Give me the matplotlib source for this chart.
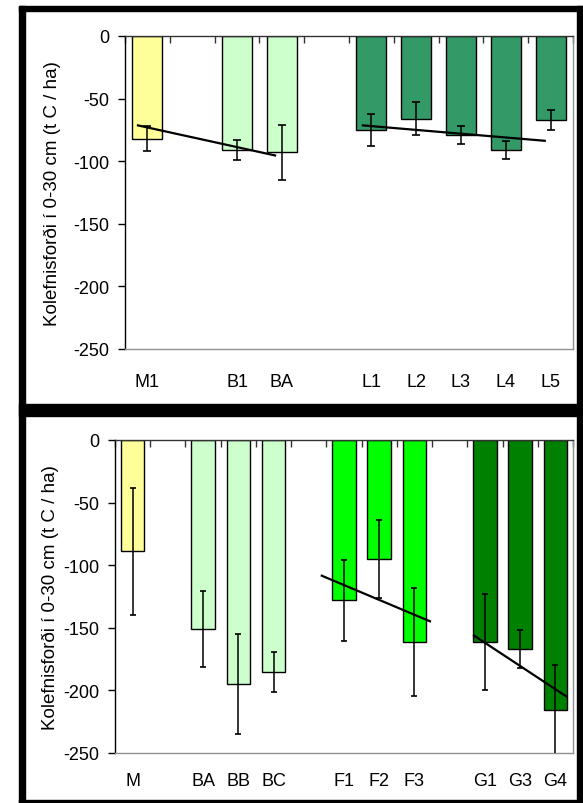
import numpy as np
import matplotlib
matplotlib.use("Agg")
import matplotlib.pyplot as plt
from matplotlib.patches import Rectangle

plt.rcParams['font.family'] = ['Liberation Sans', 'DejaVu Sans']

# ---------------- data ----------------
top_labels = ['M1', '', 'B1', 'BA', '', 'L1', 'L2', 'L3', 'L4', 'L5']
top_values = [-82, np.nan, -91, -93, np.nan, -75, -66, -79, -91, -67]
top_errors = [10, np.nan, 8, 22, np.nan, 12.5, 13, 7, 7.5, 8]
top_groups = ['M', '', 'B', 'B', '', 'L', 'L', 'L', 'L', 'L']
top_trend_x = [[-0.21, 2.85], [4.81, 8.87]]
top_trend_y = [[-71.4, -95.4], [-71.4, -83.7]]

bot_labels = ['M', '', 'BA', 'BB', 'BC', '', 'F1', 'F2', 'F3', '', 'G1', 'G3', 'G4']
bot_values = [-89, np.nan, -151, -195, -185, np.nan, -128, -95, -161.5, np.nan, -161.5, -167, -216]
bot_errors = [51, np.nan, 30, 40, 16, np.nan, 32.5, 31, 43, np.nan, 38.5, 15, 36]
bot_groups = ['M', '', 'B', 'B', 'B', '', 'F', 'F', 'F', '', 'G', 'G', 'G']
bot_trend_x = [[5.37, 8.44], [9.69, 12.31]]
bot_trend_y = [[-108.4, -144.8], [-156.2, -204.8]]

yticks = [0, -50, -100, -150, -200, -250]
ylabel = 'Kolefnisforði í 0-30 cm (t C / ha)'

group_colors = {'M': '#FFFF99', 'B': '#CCFFCC', 'L': '#339966',
                'F': '#00FF00', 'G': '#008000', '': 'none'}

W, H = 583, 804
fig = plt.figure(figsize=(W / 100, H / 100), dpi=100)
fig.patch.set_facecolor('white')


def fig_rect(x0, y0, x1, y1):
    """pixel box (top-left origin) -> figure fraction rect"""
    return [x0 / W, 1 - y1 / H, (x1 - x0) / W, (y1 - y0) / H]


# black frame pieces
for (x0, y0, x1, y1) in [(19, 7, 583, 12), (19, 7, 25, 804), (577, 7, 583, 804),
                         (19, 405, 583, 417), (19, 801, 583, 804)]:
    fig.patches.append(Rectangle((x0 / W, 1 - y1 / H), (x1 - x0) / W, (y1 - y0) / H,
                                 transform=fig.transFigure, color='black', zorder=10))


def draw_panel(rect, labels, values, errors, groups, tx, ty, label_pad, cap, lab_x):
    ax = fig.add_axes(fig_rect(*rect))
    n = len(labels)
    x = np.arange(n)
    vals = np.array(values, dtype=float)
    errs = np.array(errors, dtype=float)
    colors = [group_colors[g] for g in groups]
    ax.bar(x, np.nan_to_num(vals), width=0.67, color=colors,
           edgecolor=['black' if g else 'none' for g in groups], linewidth=1.0, zorder=2)
    m = ~np.isnan(vals)
    ax.errorbar(x[m], vals[m], yerr=errs[m], fmt='none', ecolor='black',
                elinewidth=1.1, capsize=cap, capthick=1.2, zorder=3, clip_on=True)
    for xs, ys in zip(tx, ty):
        ax.plot(xs, ys, color='black', linewidth=1.6, zorder=4)
    ax.set_xlim(-0.5, n - 0.5)
    ax.set_ylim(-250, 0)
    ax.set_yticks(yticks)
    ax.set_yticklabels([str(v) for v in yticks], fontsize=13)
    ax.tick_params(axis='y', direction='out', length=5, width=1, pad=6, colors='black')
    ax.set_xticks(x)
    ax.set_xticklabels(labels, fontsize=13)
    ax.tick_params(axis='x', which='major', length=0, pad=label_pad)
    ax.set_xticks(np.arange(n + 1) - 0.5, minor=True)
    ax.tick_params(axis='x', which='minor', bottom=False, top=True, direction='in',
                   length=5, width=1, color='#333333')
    ax.spines['left'].set_color('black')
    ax.spines['top'].set_color('#333333')
    ax.spines['right'].set_color('#909090')
    ax.spines['bottom'].set_color('#909090')
    for s in ax.spines.values():
        s.set_linewidth(1.0)
    ax.set_ylabel(ylabel, fontsize=13.5)
    ax.yaxis.set_label_coords(lab_x, 0.5)
    return ax


draw_panel((125, 37, 573, 350), top_labels, top_values, top_errors, top_groups,
           top_trend_x, top_trend_y, label_pad=17, cap=3, lab_x=-0.143)
draw_panel((115, 441, 573, 754), bot_labels, bot_values, bot_errors, bot_groups,
           bot_trend_x, bot_trend_y, label_pad=14, cap=2.5, lab_x=-0.122)

fig.savefig('out.png', dpi=100)
